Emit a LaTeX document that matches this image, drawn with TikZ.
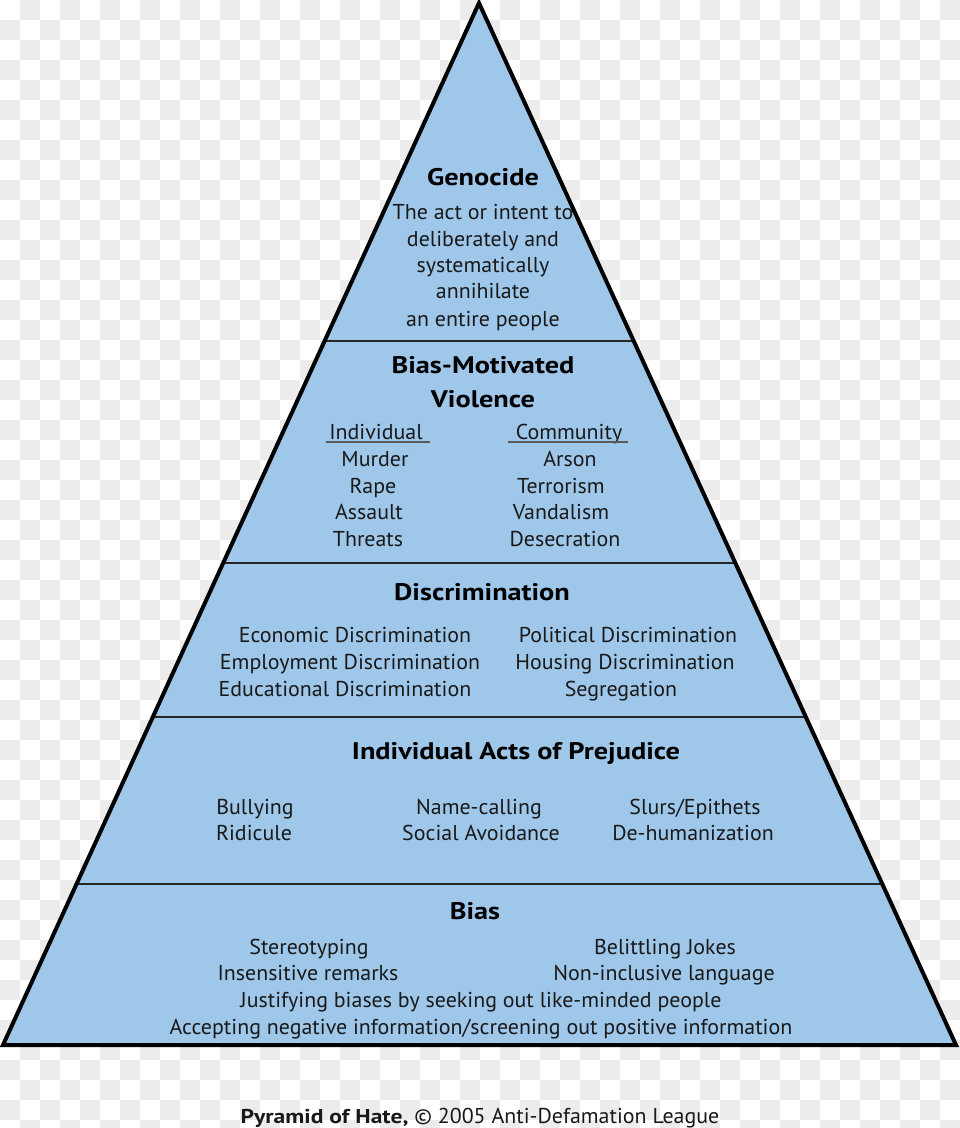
\documentclass[tikz,border=0pt]{standalone}
\usepackage{fontspec}
\setmainfont{PT Sans}[FakeStretch=1.02]
\newfontfamily\titlefont{PT Sans Bold}[FakeStretch=1.18]
\usetikzlibrary{calc}
\definecolor{pyrblue}{RGB}{158,199,234}
\definecolor{checkgray}{RGB}{236,236,236}
\tikzset{
  body/.style={inner sep=0pt, text height=15pt, text depth=0pt, font=\fontsize{21.5}{25}\selectfont, text=black!90},
  title/.style={inner sep=0pt, text height=17pt, text depth=0pt, font=\fontsize{24}{28}\titlefont},
  divider/.style={line width=2pt, black!85},
  outline/.style={line width=4pt, black, line join=miter},
  uline/.style={line width=1.5pt, black!65}
}
\begin{document}
\begin{tikzpicture}[x=1pt,y=-1pt]
\useasboundingbox (0,0) rectangle (960,1128);
% checkerboard background
\fill[white] (0,0) rectangle (960,1128);
\foreach \j in {0,...,56}{
  \pgfmathtruncatemacro\s{mod(\j+1,2)}
  \foreach \k in {0,...,23}{
    \fill[checkgray] ({(2*\k+\s)*20},{\j*20}) rectangle ++(20,20);
  }
}
% pyramid
\coordinate (A) at (479,3);
\coordinate (BL) at (3,1045);
\coordinate (BR) at (956,1045);
\fill[pyrblue] (A) -- (BL) -- (BR) -- cycle;
\foreach \t/\n in {0.3244/1,0.5374/2,0.6852/3,0.8455/4}{
  \coordinate (L\n) at ($(A)!\t!(BL)$);
  \coordinate (R\n) at ($(A)!\t!(BR)$);
  \draw[divider] (L\n) -- (R\n);
}
\draw[outline] (A) -- (BL) -- (BR) -- cycle;

% Genocide
\node[title] (gen) at (483,177) {Genocide};
\node[body] (g1) at (483,212) {The act or intent to};
\node[body] (g2) at (483,239) {deliberately and};
\node[body] (g3) at (483,265) {systematically};
\node[body] (g4) at (483,291) {annihilate};
\node[body] (g5) at (483,319) {an entire people};

% Bias-Motivated Violence
\node[title] (bmv1) at (483,365) {Bias-Motivated};
\node[title] (bmv2) at (483,399) {Violence};
\node[body] (ind) at (376,432) {Individual};
\node[body] (com) at (569,432) {Community};
\coordinate (u1a) at (326,442); \coordinate (u1b) at (430,442);
\coordinate (u2a) at (508,442); \coordinate (u2b) at (628,442);
\draw[uline] (u1a) -- (u1b);
\draw[uline] (u2a) -- (u2b);
\node[body] (v1) at (375,459) {Murder};
\node[body] (v2) at (373,486) {Rape};
\node[body] (v3) at (369,512) {Assault};
\node[body] (v4) at (368,539) {Threats};
\node[body] (c1) at (570,459) {Arson};
\node[body] (c2) at (561,486) {Terrorism};
\node[body] (c3) at (561,512) {Vandalism};
\node[body] (c4) at (565,539) {Desecration};

% Discrimination
\node[title] (dis) at (482,592) {Discrimination};
\node[body] (d1) at (355,635) {Economic Discrimination};
\node[body] (d2) at (350,662) {Employment Discrimination};
\node[body] (d3) at (345,689) {Educational Discrimination};
\node[body] (d4) at (628,635) {Political Discrimination};
\node[body] (d5) at (625,662) {Housing Discrimination};
\node[body] (d6) at (621,689) {Segregation};

% Individual Acts of Prejudice
\node[title] (iap) at (516,751) {Individual Acts of Prejudice};
\node[body] (p1) at (255,807) {Bullying};
\node[body] (p2) at (254,833) {Ridicule};
\node[body] (p3) at (479,807) {Name-calling};
\node[body] (p4) at (481,833) {Social Avoidance};
\node[body] (p5) at (695,807) {Slurs/Epithets};
\node[body] (p6) at (693,833) {De-humanization};

% Bias
\node[title] (bias) at (475,911) {Bias};
\node[body] (b1) at (309,947) {Stereotyping};
\node[body] (b2) at (308,973) {Insensitive remarks};
\node[body] (b3) at (665,947) {Belittling Jokes};
\node[body] (b4) at (664,973) {Non-inclusive language};
\node[body] (b5) at (481,1000) {Justifying biases by seeking out like-minded people};
\node[body] (b6) at (481,1027) {Accepting negative information/screening out positive information};

% footer
\node[body] (foot) at (480,1116) {{\titlefont\fontsize{20}{24}\selectfont Pyramid of Hate,} \textcopyright\ 2005 Anti-Defamation League};
\end{tikzpicture}
\end{document}
